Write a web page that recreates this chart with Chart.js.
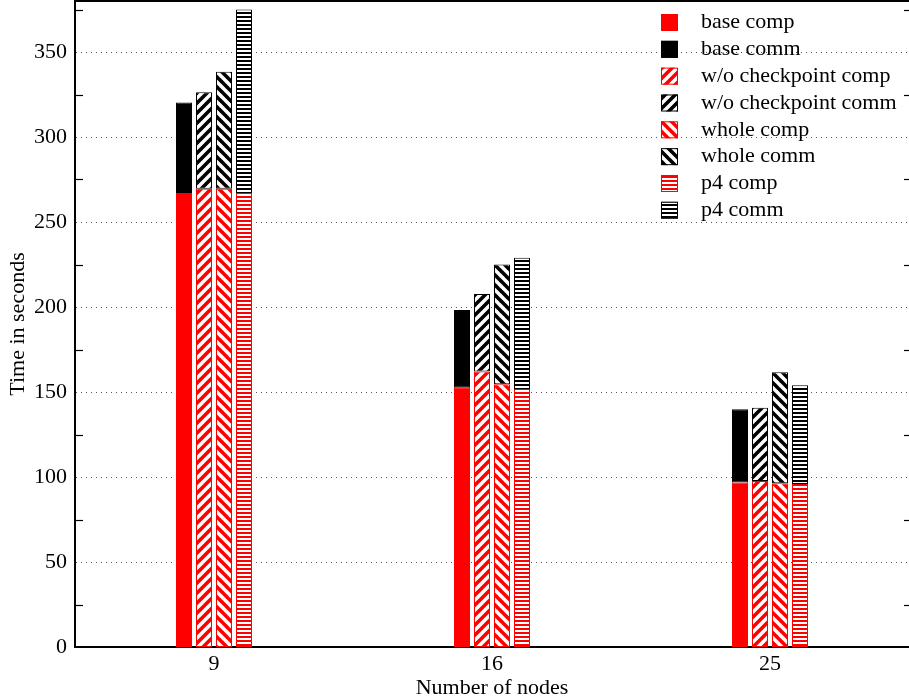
<!DOCTYPE html>
<html>
<head>
<meta charset="utf-8">
<script src="https://cdn.jsdelivr.net/npm/chart.js@4"></script>
<style>
html,body{margin:0;padding:0;background:#fff;}
#wrap{width:909px;height:700px;position:relative;}
</style>
</head>
<body>
<div id="wrap"><canvas id="c" width="909" height="700"></canvas></div>
<script>
// ---- data ----
const nodes = ['9', '16', '25'];
const baseComp  = [267.0, 152.5, 96.7];
const baseComm  = [53.3, 45.7, 43.1];
const woComp    = [269.6, 162.0, 97.6];
const woComm    = [56.7, 45.6, 43.2];
const wholeComp = [269.6, 154.5, 96.3];
const wholeComm = [68.8, 70.5, 65.3];
const p4Comp    = [267.0, 151.8, 95.9];
const p4Comm    = [108.0, 77.2, 58.1];
const yTicks = [0, 50, 100, 150, 200, 250, 300, 350];
const yMinorTicks = [25, 75, 125, 175, 225, 275, 325, 375];

const FONT = "'Liberation Serif', 'Times New Roman', serif";
const RED = '#ff0000', BLACK = '#000000';

function makePattern(color, kind) {
  const c = document.createElement('canvas');
  const g = c.getContext('2d');
  if (kind === 'solid') return color;
  if (kind === 'horiz') {
    c.width = 4; c.height = 4;
    g.fillStyle = '#fff'; g.fillRect(0, 0, 4, 4);
    g.fillStyle = color; g.fillRect(0, 0, 4, 2);
  } else {
    c.width = 10; c.height = 10;
    g.fillStyle = '#fff'; g.fillRect(0, 0, 10, 10);
    g.strokeStyle = color; g.lineWidth = 3.6; g.lineCap = 'square';
    const segs = kind === 'fwd'
      ? [[-5, 5, 5, -5], [0, 10, 10, 0], [5, 15, 15, 5]]
      : [[-5, 5, 5, 15], [0, 0, 10, 10], [5, -5, 15, 5]];
    segs.forEach(s => { g.beginPath(); g.moveTo(s[0], s[1]); g.lineTo(s[2], s[3]); g.stroke(); });
  }
  return g.createPattern(c, 'repeat');
}

function ds(label, data, stack, color, kind) {
  return {
    label, data, stack,
    backgroundColor: makePattern(color, kind),
    borderColor: color,
    borderWidth: 1,
    borderSkipped: false,
    categoryPercentage: 80 / 278,
    barPercentage: 0.8
  };
}

const datasets = [
  ds('base comp', baseComp, 'base', RED, 'solid'),
  ds('base comm', baseComm, 'base', BLACK, 'solid'),
  ds('w/o checkpoint comp', woComp, 'wo', RED, 'fwd'),
  ds('w/o checkpoint comm', woComm, 'wo', BLACK, 'fwd'),
  ds('whole comp', wholeComp, 'whole', RED, 'back'),
  ds('whole comm', wholeComm, 'whole', BLACK, 'back'),
  ds('p4 comp', p4Comp, 'p4', RED, 'horiz'),
  ds('p4 comm', p4Comm, 'p4', BLACK, 'horiz')
];

const framePlugin = {
  id: 'frame',
  beforeDatasetsDraw(chart) {
    const {ctx, chartArea: a, scales: {y}} = chart;
    ctx.save();
    ctx.strokeStyle = '#555';
    ctx.lineWidth = 1;
    ctx.setLineDash([1, 4]);
    yTicks.forEach(v => {
      if (v === 0) return;
      const py = Math.round(y.getPixelForValue(v)) + 0.5;
      ctx.beginPath(); ctx.moveTo(a.left + 1, py); ctx.lineTo(a.right, py); ctx.stroke();
    });
    ctx.restore();
  },
  afterDatasetsDraw(chart) {
    const {ctx, chartArea: a, scales: {y}} = chart;
    ctx.save();
    // top border
    ctx.strokeStyle = '#000'; ctx.lineWidth = 2;
    ctx.beginPath(); ctx.moveTo(a.left - 1, a.top); ctx.lineTo(a.right, a.top); ctx.stroke();
    // minor ticks
    ctx.lineWidth = 1.2;
    yMinorTicks.forEach(v => {
      const py = Math.round(y.getPixelForValue(v)) + 0.5;
      ctx.beginPath(); ctx.moveTo(a.left, py); ctx.lineTo(a.left + 8, py); ctx.stroke();
      ctx.beginPath(); ctx.moveTo(a.right - 5, py); ctx.lineTo(a.right, py); ctx.stroke();
    });
    // legend inside plot
    ctx.font = '22px ' + FONT;
    ctx.textBaseline = 'middle';
    ctx.textAlign = 'left';
    chart.data.datasets.forEach((d, i) => {
      const cy = 22.5 + i * 26.83;
      ctx.fillStyle = d.backgroundColor;
      ctx.fillRect(661, cy - 8.5, 17, 17);
      ctx.strokeStyle = d.borderColor; ctx.lineWidth = 1;
      ctx.strokeRect(661.5, cy - 8, 16, 16);
      ctx.fillStyle = '#000';
      ctx.fillText(d.label, 701, cy);
    });
    ctx.restore();
  }
};

new Chart(document.getElementById('c'), {
  type: 'bar',
  data: { labels: nodes, datasets },
  options: {
    responsive: false,
    animation: false,
    devicePixelRatio: 1,
    layout: { padding: { left: 0, right: 0, top: 1, bottom: 0 } },
    plugins: { legend: { display: false }, tooltip: { enabled: false } },
    scales: {
      x: {
        stacked: true,
        offset: true,
        grid: { display: false, drawTicks: false },
        border: { display: true, color: '#000', width: 2 },
        ticks: { color: '#000', font: { family: FONT, size: 22 }, padding: 4 },
        title: { display: true, text: 'Number of nodes', color: '#000',
                 font: { family: FONT, size: 22, lineHeight: 1.1 }, padding: { top: 0, bottom: 0 } },
        afterFit(s) { s.height = 53; s.paddingLeft = 0; s.paddingRight = 0; }
      },
      y: {
        stacked: true,
        min: 0, max: 380,
        grid: { display: false, drawTicks: false },
        border: { display: true, color: '#000', width: 2 },
        ticks: { stepSize: 50, includeBounds: false, color: '#000',
                 font: { family: FONT, size: 22 }, padding: 8 },
        afterBuildTicks(s) { s.ticks = yTicks.map(v => ({ value: v })); },
        title: { display: true, text: 'Time in seconds', color: '#000',
                 font: { family: FONT, size: 22, lineHeight: 1.1 }, padding: { top: 6, bottom: 0 } },
        afterFit(s) { s.width = 75; s.paddingTop = 0; s.paddingBottom = 0; }
      }
    }
  },
  plugins: [framePlugin]
});
</script>
</body>
</html>
